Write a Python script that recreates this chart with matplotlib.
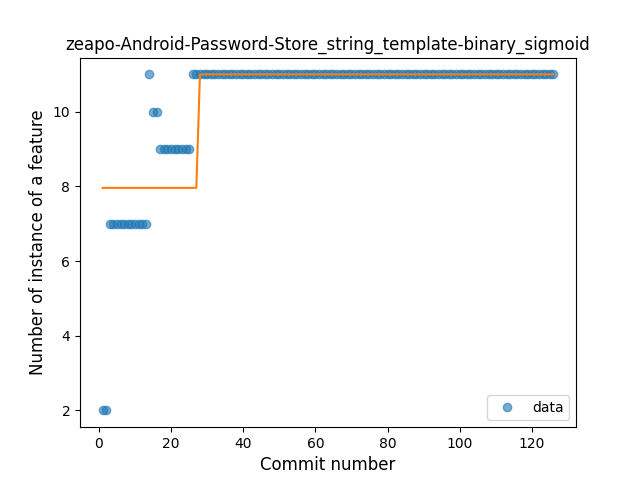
import matplotlib
matplotlib.use("Agg")
import matplotlib.pyplot as plt
import numpy as np

values = [2, 2] + [7] * 11 + [11] + [10, 10] + [9] * 9 + [11] * 101
commits = list(range(1, len(values) + 1))
fit_low = 7.96
fit_high = 11.0
fit_break = 27
fit = [fit_low if c <= fit_break else fit_high for c in commits]

fig, ax = plt.subplots(figsize=(6.4, 4.8), dpi=100)
ax.plot(commits, values, 'o', alpha=0.6, label='data')
ax.plot(commits, fit, '-')
ax.set_title('zeapo-Android-Password-Store_string_template-binary_sigmoid')
ax.set_xlabel('Commit number', fontsize=12)
ax.set_ylabel('Number of instance of a feature', fontsize=12)
ax.legend(loc='lower right')
fig.savefig('out.png')
